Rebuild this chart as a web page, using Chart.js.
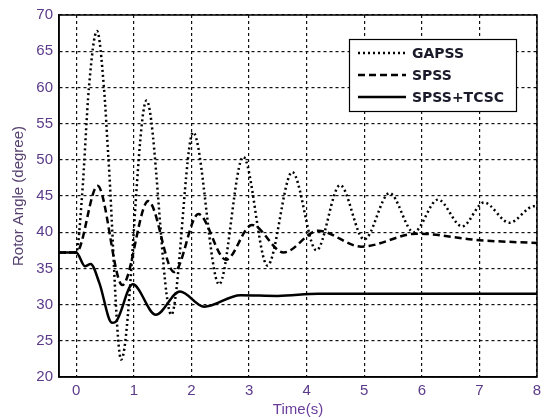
<!DOCTYPE html>
<html>
<head>
<meta charset="utf-8">
<script src="https://cdn.jsdelivr.net/npm/chart.js@4"></script>
<style>
	html, body { margin: 0; padding: 0; background: #fff; }
	#wrap { width: 541px; height: 419px; }
</style>
</head>
<body>
<div id="wrap"><canvas id="rotorAngle"></canvas></div>
<script>
// ROTOR ANGLE RESPONSE

const seriesNames = ["GAPSS", "SPSS", "SPSS+TCSC"];
const xTicks = [0, 1, 2, 3, 4, 5, 6, 7, 8];

// GAPSS
const gapssTime = [-0.3, 0, 0.1, 0.22, 0.36, 0.48, 0.56, 0.78, 1.22, 1.65, 2.03, 2.48, 2.9, 3.32, 3.75, 4.17, 4.58, 5.0, 5.44, 5.86, 6.28, 6.7, 7.08, 7.52, 7.95, 8];
const gapssAngle = [37.2, 37.2, 45, 60, 67.8, 60, 50, 22.4, 58.2, 28.6, 53.8, 32.8, 50.4, 35.4, 48.3, 37.5, 46.5, 39, 45.4, 40, 44.5, 40.8, 44.1, 41.3, 43.6, 43.6];

// SPSS
const spssTime = [-0.3, 0, 0.37, 0.8, 1.25, 1.7, 2.12, 2.6, 3.05, 3.6, 4.2, 4.95, 5.92, 7, 8];
const spssAngle = [37.2, 37.2, 46.4, 32.7, 44.3, 34.5, 42.5, 36.2, 41, 37.2, 40.2, 38, 39.8, 38.9, 38.5];

// SPSS+TCSC
const tcscTime = [-0.3, 0, 0.15, 0.25, 0.4, 0.62, 0.68, 0.98, 1.38, 1.8, 2.22, 2.85, 3.5, 4.2, 8];
const tcscAngle = [37.2, 37.2, 35.3, 35.6, 33, 27.5, 27.6, 32.8, 28.6, 31.8, 29.7, 31.3, 31.2, 31.5, 31.5];

const toPoints = (xs, ys) => xs.map((x, i) => ({ x: x, y: ys[i] }));

const lineStyles = [
	{ dash: [2, 3], width: 2.5 },
	{ dash: [7, 4], width: 2.5 },
	{ dash: [], width: 2.5 },
];

const rotorData = {
	datasets: [
		toPoints(gapssTime, gapssAngle),
		toPoints(spssTime, spssAngle),
		toPoints(tcscTime, tcscAngle),
	].map((pts, i) => ({
		label: seriesNames[i],
		data: pts,
		borderColor: "#000",
		borderWidth: lineStyles[i].width,
		borderDash: lineStyles[i].dash,
		pointRadius: 0,
		cubicInterpolationMode: "monotone",
		fill: false,
	})),
};

// box round the plot + legend inside it
const frameAndLegend = {
	id: "frameAndLegend",
	afterDraw(chart) {
		const { ctx, chartArea: a } = chart;
		ctx.save();
		ctx.setLineDash([]);
		ctx.strokeStyle = "#000";
		ctx.lineWidth = 1.5;
		ctx.strokeRect(a.left, a.top, a.right - a.left, a.bottom - a.top);

		// legend
		ctx.fillStyle = "#fff";
		ctx.fillRect(349.5, 39.5, 167, 72);
		ctx.lineWidth = 1.2;
		ctx.strokeRect(349.5, 39.5, 167, 72);
		ctx.font = "bold 14px 'DejaVu Sans'";
		ctx.textBaseline = "middle";
		chart.data.datasets.forEach((ds, i) => {
			const y = 53 + i * 22;
			ctx.beginPath();
			ctx.setLineDash(ds.borderDash);
			ctx.lineWidth = ds.borderWidth;
			ctx.moveTo(358, y);
			ctx.lineTo(406, y);
			ctx.stroke();
			ctx.setLineDash([]);
			ctx.fillStyle = "#1a1a2a";
			ctx.fillText(ds.label, 412, y + 1);
		});
		ctx.restore();
	},
};

const rotorConfig = {
	type: "line",
	data: rotorData,
	options: {
		responsive: true,
		maintainAspectRatio: false,
		animation: false,
		layout: { padding: { left: 0, right: 4, top: 13, bottom: 0 } },
		plugins: { legend: { display: false }, tooltip: { enabled: false } },
		scales: {
			x: {
				type: "linear",
				min: -0.3,
				max: 8,
				afterBuildTicks: (s) => { s.ticks = xTicks.map((v) => ({ value: v })); },
				afterFit: (s) => { s.height = 42; s.paddingRight = 0; s.paddingLeft = 0; },
				ticks: {
					color: "#5b3a8a",
					font: { family: "'Liberation Sans'", size: 15 },
					padding: 5,
				},
				grid: { color: "#111", lineWidth: 1.2, drawTicks: false },
				border: { color: "#000", width: 1.5, dash: [3, 3] },
				title: {
					display: true,
					text: "Time(s)",
					color: "#6a3c9a",
					font: { family: "'Liberation Sans'", size: 15 },
					padding: { top: 0, bottom: 0 },
				},
			},
			y: {
				min: 20,
				max: 70,
				afterFit: (s) => { s.width = 59; },
				ticks: {
					stepSize: 5,
					color: "#5b3a8a",
					font: { family: "'Liberation Sans'", size: 15 },
					padding: 6,
				},
				grid: { color: "#111", lineWidth: 1.2, drawTicks: false },
				border: { color: "#000", width: 1.5, dash: [3, 3] },
				title: {
					display: true,
					text: "Rotor Angle (degree)",
					color: "#55406e",
					font: { family: "'Liberation Sans'", size: 15 },
					padding: { top: 10, bottom: 0 },
				},
			},
		},
	},
	plugins: [frameAndLegend],
};

const RotorAngleChart = new Chart(
	document.getElementById("rotorAngle"),
	rotorConfig
);
</script>
</body>
</html>
